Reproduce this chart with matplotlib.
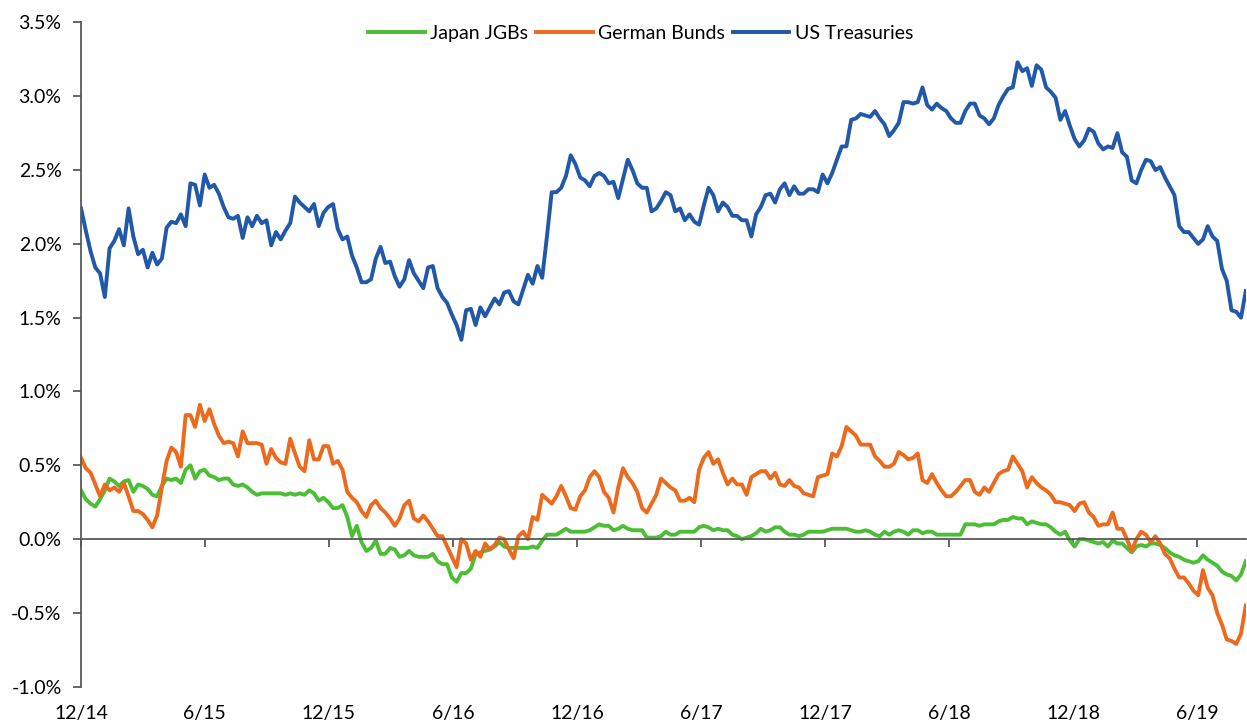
import pandas as pd
import matplotlib
matplotlib.use("Agg")
import matplotlib.pyplot as plt
from matplotlib.ticker import FuncFormatter

plt.rcParams['font.family'] = ['Lato', 'DejaVu Sans']

# weekly 10y yields (%), first week of Dec 2014 to Aug 2019
start = "2014-12-05"

us_treasuries = [
    2.24, 2.09, 1.95, 1.84, 1.80, 1.64, 1.97, 2.02, 2.10, 1.99,
    2.24, 2.05, 1.93, 1.96, 1.84, 1.94, 1.86, 1.90, 2.11, 2.15,
    2.14, 2.20, 2.12, 2.41, 2.40, 2.26, 2.47, 2.38, 2.40, 2.34,
    2.25, 2.18, 2.17, 2.19, 2.04, 2.18, 2.12, 2.19, 2.14, 2.16,
    1.99, 2.08, 2.03, 2.09, 2.14, 2.32, 2.28, 2.25, 2.22, 2.27,
    2.12, 2.21, 2.25, 2.27, 2.10, 2.03, 2.05, 1.92, 1.84, 1.74,
    1.74, 1.76, 1.90, 1.98, 1.87, 1.88, 1.78, 1.71, 1.76, 1.89,
    1.80, 1.75, 1.70, 1.84, 1.85, 1.70, 1.64, 1.60, 1.52, 1.45,
    1.35, 1.55, 1.56, 1.45, 1.57, 1.51, 1.57, 1.63, 1.59, 1.67,
    1.68, 1.61, 1.59, 1.69, 1.79, 1.73, 1.85, 1.77, 2.05, 2.35,
    2.35, 2.38, 2.46, 2.60, 2.54, 2.45, 2.43, 2.39, 2.46, 2.48,
    2.46, 2.41, 2.42, 2.31, 2.44, 2.57, 2.50, 2.41, 2.38, 2.38,
    2.22, 2.24, 2.29, 2.35, 2.33, 2.22, 2.24, 2.16, 2.20, 2.15,
    2.13, 2.26, 2.38, 2.33, 2.22, 2.28, 2.25, 2.19, 2.19, 2.16,
    2.16, 2.05, 2.20, 2.25, 2.33, 2.34, 2.28, 2.37, 2.41, 2.33,
    2.39, 2.34, 2.34, 2.37, 2.37, 2.35, 2.47, 2.41, 2.48, 2.57,
    2.66, 2.66, 2.84, 2.85, 2.88, 2.87, 2.86, 2.90, 2.85, 2.81,
    2.73, 2.77, 2.82, 2.96, 2.96, 2.95, 2.96, 3.06, 2.94, 2.91,
    2.95, 2.92, 2.90, 2.85, 2.82, 2.82, 2.90, 2.95, 2.95, 2.87,
    2.85, 2.81, 2.85, 2.94, 3.00, 3.05, 3.06, 3.23, 3.17, 3.19,
    3.07, 3.21, 3.18, 3.06, 3.03, 2.99, 2.84, 2.90, 2.80, 2.71,
    2.66, 2.70, 2.78, 2.76, 2.68, 2.64, 2.66, 2.65, 2.75, 2.62,
    2.59, 2.43, 2.41, 2.50, 2.57, 2.56, 2.50, 2.52, 2.45, 2.39,
    2.33, 2.12, 2.08, 2.08, 2.04, 2.00, 2.03, 2.12, 2.05, 2.02,
    1.83, 1.75, 1.55, 1.54, 1.50, 1.68,
]

german_bunds = [
    0.55, 0.48, 0.45, 0.37, 0.29, 0.37, 0.33, 0.35, 0.32, 0.38,
    0.29, 0.19, 0.19, 0.17, 0.13, 0.08, 0.16, 0.35, 0.53, 0.62,
    0.59, 0.49, 0.84, 0.84, 0.76, 0.91, 0.80, 0.88, 0.78, 0.70,
    0.65, 0.66, 0.65, 0.56, 0.73, 0.65, 0.65, 0.65, 0.64, 0.51,
    0.61, 0.55, 0.52, 0.51, 0.68, 0.58, 0.49, 0.46, 0.67, 0.54,
    0.54, 0.63, 0.63, 0.51, 0.53, 0.47, 0.32, 0.28, 0.25, 0.19,
    0.15, 0.23, 0.26, 0.21, 0.18, 0.14, 0.09, 0.14, 0.23, 0.26,
    0.14, 0.12, 0.16, 0.12, 0.07, 0.02, 0.02, -0.05, -0.12, -0.19,
    0.00, -0.03, -0.14, -0.08, -0.12, -0.03, -0.07, -0.04, 0.01, 0.00,
    -0.07, -0.13, 0.02, 0.05, 0.00, 0.15, 0.13, 0.30, 0.27, 0.24,
    0.29, 0.36, 0.29, 0.21, 0.20, 0.29, 0.33, 0.42, 0.46, 0.42,
    0.32, 0.28, 0.18, 0.35, 0.48, 0.42, 0.38, 0.32, 0.21, 0.18,
    0.24, 0.30, 0.41, 0.38, 0.35, 0.33, 0.26, 0.26, 0.28, 0.25,
    0.47, 0.55, 0.59, 0.51, 0.54, 0.45, 0.37, 0.41, 0.37, 0.37,
    0.30, 0.42, 0.44, 0.46, 0.46, 0.41, 0.45, 0.37, 0.36, 0.40,
    0.36, 0.35, 0.31, 0.30, 0.29, 0.42, 0.43, 0.44, 0.58, 0.56,
    0.63, 0.76, 0.73, 0.70, 0.64, 0.64, 0.64, 0.56, 0.53, 0.49,
    0.49, 0.51, 0.59, 0.57, 0.54, 0.55, 0.58, 0.40, 0.38, 0.44,
    0.38, 0.33, 0.29, 0.29, 0.32, 0.36, 0.40, 0.40, 0.32, 0.30,
    0.35, 0.32, 0.38, 0.44, 0.46, 0.47, 0.56, 0.51, 0.46, 0.35,
    0.42, 0.38, 0.35, 0.33, 0.30, 0.25, 0.25, 0.24, 0.23, 0.19,
    0.24, 0.25, 0.18, 0.15, 0.09, 0.10, 0.10, 0.18, 0.07, 0.07,
    0.00, -0.08, 0.00, 0.05, 0.03, -0.02, 0.02, -0.03, -0.10, -0.13,
    -0.20, -0.26, -0.26, -0.30, -0.35, -0.38, -0.21, -0.33, -0.38, -0.50,
    -0.58, -0.68, -0.69, -0.71, -0.64, -0.45,
]

japan_jgbs = [
    0.33, 0.27, 0.24, 0.22, 0.27, 0.33, 0.41, 0.39, 0.36, 0.39,
    0.40, 0.32, 0.37, 0.36, 0.34, 0.30, 0.29, 0.36, 0.41, 0.40,
    0.41, 0.38, 0.47, 0.50, 0.41, 0.46, 0.47, 0.43, 0.42, 0.40,
    0.41, 0.41, 0.37, 0.36, 0.37, 0.35, 0.32, 0.30, 0.31, 0.31,
    0.31, 0.31, 0.31, 0.30, 0.31, 0.30, 0.31, 0.30, 0.33, 0.31,
    0.26, 0.28, 0.25, 0.21, 0.21, 0.23, 0.15, 0.02, 0.09, -0.02,
    -0.08, -0.06, -0.01, -0.10, -0.10, -0.06, -0.07, -0.12, -0.11, -0.08,
    -0.11, -0.12, -0.12, -0.12, -0.10, -0.15, -0.17, -0.17, -0.26, -0.29,
    -0.23, -0.23, -0.20, -0.10, -0.09, -0.08, -0.07, -0.05, -0.02, -0.05,
    -0.06, -0.06, -0.06, -0.06, -0.06, -0.05, -0.06, -0.01, 0.03, 0.03,
    0.03, 0.05, 0.07, 0.05, 0.05, 0.05, 0.05, 0.06, 0.08, 0.10,
    0.09, 0.09, 0.06, 0.07, 0.09, 0.07, 0.06, 0.06, 0.06, 0.01,
    0.01, 0.01, 0.02, 0.05, 0.03, 0.03, 0.05, 0.05, 0.05, 0.05,
    0.08, 0.09, 0.08, 0.06, 0.07, 0.06, 0.06, 0.03, 0.02, 0.00,
    0.01, 0.02, 0.04, 0.07, 0.05, 0.06, 0.08, 0.08, 0.05, 0.03,
    0.03, 0.02, 0.03, 0.05, 0.05, 0.05, 0.05, 0.06, 0.07, 0.07,
    0.07, 0.07, 0.06, 0.05, 0.05, 0.06, 0.05, 0.03, 0.02, 0.05,
    0.03, 0.05, 0.06, 0.05, 0.03, 0.06, 0.06, 0.04, 0.05, 0.05,
    0.03, 0.03, 0.03, 0.03, 0.03, 0.03, 0.10, 0.10, 0.10, 0.09,
    0.10, 0.10, 0.10, 0.12, 0.13, 0.13, 0.15, 0.14, 0.14, 0.10,
    0.12, 0.11, 0.10, 0.10, 0.08, 0.05, 0.03, 0.05, -0.01, -0.05,
    0.00, 0.00, -0.01, -0.02, -0.03, -0.02, -0.05, -0.01, -0.03, -0.03,
    -0.06, -0.09, -0.05, -0.04, -0.05, -0.03, -0.03, -0.04, -0.06, -0.09,
    -0.11, -0.12, -0.14, -0.15, -0.16, -0.15, -0.11, -0.14, -0.16, -0.18,
    -0.22, -0.24, -0.25, -0.28, -0.24, -0.15,
]

tick_labels = ["12/14", "6/15", "12/15", "6/16", "12/16",
               "6/17", "12/17", "6/18", "12/18", "6/19"]

dates = pd.date_range(start, periods=len(us_treasuries), freq="7D")
tick_dates = [pd.Timestamp(start) + pd.DateOffset(months=6 * i) for i in range(len(tick_labels))]

fig = plt.figure(figsize=(12.47, 7.24), dpi=100)
ax = fig.add_axes([0.065, 0.0515, 0.934, 0.9175])

ax.plot(dates, japan_jgbs, color="#4BBE35", lw=2.8, label="Japan JGBs")
ax.plot(dates, german_bunds, color="#EC6A1E", lw=2.8, label="German Bunds")
ax.plot(dates, us_treasuries, color="#2158A8", lw=2.8, label="US Treasuries")

ax.set_xlim(dates[0], dates[-1])
ax.set_ylim(-1.0, 3.5)
ax.set_yticks([-1.0 + 0.5 * i for i in range(10)])
ax.yaxis.set_major_formatter(FuncFormatter(lambda v, p: "%.1f%%" % v))

axis_col = "#595959"
for s in ["top", "right"]:
    ax.spines[s].set_visible(False)
ax.spines["left"].set_color(axis_col)
ax.spines["left"].set_linewidth(1.3)
ax.spines["bottom"].set_position(("data", 0))
ax.spines["bottom"].set_color(axis_col)
ax.spines["bottom"].set_linewidth(1.3)

ax.set_xticks(tick_dates)
ax.tick_params(axis="x", direction="out", length=6, width=1.3, color=axis_col, labelbottom=False)
ax.tick_params(axis="y", direction="out", length=6, width=1.3, color=axis_col, pad=8,
               labelsize=14, labelcolor="black")

# date labels sit under the plot, not on the zero line
sec = ax.secondary_xaxis("bottom")
sec.set_xticks(tick_dates)
sec.set_xticklabels(tick_labels)
sec.tick_params(length=0, pad=13, labelsize=14)
sec.spines["bottom"].set_visible(False)

fig.legend(loc="center", bbox_to_anchor=(0.514, 0.954), ncol=3, frameon=False,
           fontsize=14, handlelength=2.9, handletextpad=0.3, columnspacing=0.4)

fig.savefig("out.png", dpi=100)
